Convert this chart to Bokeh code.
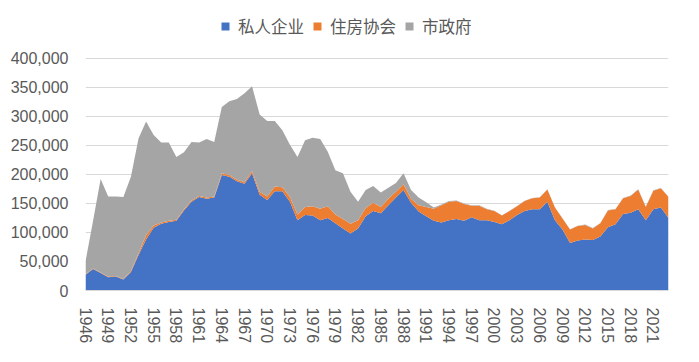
from bokeh.plotting import figure
from bokeh.models import ColumnDataSource, FixedTicker, NumeralTickFormatter, Range1d, Legend
from bokeh.embed import file_html
from bokeh.resources import INLINE

years = list(range(1946, 2024))

series_names = ["私人企业", "住房协会", "市政府"]
colors = ["#4472C4", "#ED7D31", "#A5A5A5"]

# thousands of dwellings
private = [27, 37, 30, 23, 24, 19, 32, 61, 88, 108, 115, 118, 120, 138, 153, 161, 158, 160, 199, 196, 188, 184, 202, 165, 156,
           171, 171, 153, 121, 130, 129, 121, 125, 116, 107, 98, 107, 128, 137, 133, 147, 160, 173, 151, 136, 128, 120, 117,
           121, 123, 120, 126, 121, 121, 118, 114, 121, 130, 137, 140, 140, 153, 121,
           105, 82, 86, 88, 87, 93, 109, 114, 132, 134, 140, 121, 140, 143, 125]
housing = [1, 1, 1, 1, 1, 1, 2, 3, 7, 4, 2, 2, 2, 2, 2, 2, 2, 2, 3, 3, 3, 3, 4, 5, 6,
           8, 7, 8, 10, 14, 16, 20, 20, 15, 16, 17, 14, 14, 14, 11, 11, 10, 10, 7, 11, 16, 21, 30,
           32, 31, 29, 20, 25, 19, 19, 15, 16, 15, 17, 19, 20, 21, 22,
           19, 23, 25, 25, 20, 23, 29, 26, 27, 29, 34, 23, 32, 33, 36]
municipal = [22, 82, 161, 138, 137, 141, 162, 198, 196, 156, 138, 135, 108, 98, 101, 92, 101, 94, 114, 127, 139, 153, 146, 133, 130,
             113, 98, 90, 99, 115, 118, 120, 94, 76, 79, 55, 32, 31, 29, 25, 19, 15, 19, 15, 13, 8, 2, 1,
             1, 1, 1, 1, 1, 1, 0.5, 0.5, 0.5, 0.5, 0.5, 0.5, 0.5, 0.5, 0.5,
             0.5, 0.5, 0.5, 0.5, 0.5, 0.5, 0.5, 0.5, 0.5, 0.5, 0.5, 0.5, 0.5, 0.5, 0.5]

x_ticks = list(range(1946, 2024, 3))
y_ticks = list(range(0, 400001, 50000))

source = ColumnDataSource(dict(
    year=years,
    private=[v * 1000 for v in private],
    housing=[v * 1000 for v in housing],
    municipal=[v * 1000 for v in municipal],
))

# layout: frame from y=4 to y=291 (figure px); 400,000 gridline should sit at y=58
W, H = 683, 346
top, bottom, left, right = 4, 55, 85, 15
frame_h = H - top - bottom
y_top_px = 58 - top
y_end = 400000 * frame_h / (frame_h - y_top_px)

p = figure(width=W, height=H, output_backend="svg", toolbar_location=None,
           x_range=Range1d(1946, 2023), y_range=Range1d(0, y_end),
           min_border_left=left, min_border_right=right, min_border_top=top, min_border_bottom=bottom)

renderers = p.varea_stack(["private", "housing", "municipal"], x="year", color=colors, source=source)

p.outline_line_color = None
p.background_fill_color = "white"
p.border_fill_color = "white"

p.xgrid.grid_line_color = None
p.ygrid.grid_line_color = "#D9D9D9"
p.ygrid.grid_line_width = 1

p.yaxis.ticker = FixedTicker(ticks=y_ticks)
p.yaxis.formatter = NumeralTickFormatter(format="0,0")
p.yaxis.axis_line_color = None
p.yaxis.major_tick_line_color = None
p.yaxis.minor_tick_line_color = None
p.yaxis.major_label_text_font = "Liberation Sans"
p.yaxis.major_label_text_font_size = "16px"
p.yaxis.major_label_text_color = "#595959"
p.yaxis.major_label_standoff = 11

p.xaxis.ticker = FixedTicker(ticks=x_ticks)
p.xaxis.axis_line_color = "#D9D9D9"
p.xaxis.major_tick_line_color = None
p.xaxis.minor_tick_line_color = None
p.xaxis.major_label_orientation = "vertical"
p.xaxis.major_label_text_font = "Liberation Sans"
p.xaxis.major_label_text_font_size = "16px"
p.xaxis.major_label_text_color = "#595959"
p.xaxis.major_label_standoff = 11

legend = Legend(items=[(name, [r]) for name, r in zip(series_names, renderers)],
                orientation="horizontal", location=(135, 252))
legend.label_text_font = "Noto Sans CJK SC"
legend.label_text_font_size = "16.5px"
legend.label_text_color = "#595959"
legend.glyph_width = 10
legend.glyph_height = 10
legend.label_standoff = 8
legend.spacing = 8
legend.padding = 2
legend.margin = 0
legend.border_line_color = None
legend.background_fill_alpha = 0
p.add_layout(legend, "center")

open("out.html", "w").write(file_html(p, INLINE))
